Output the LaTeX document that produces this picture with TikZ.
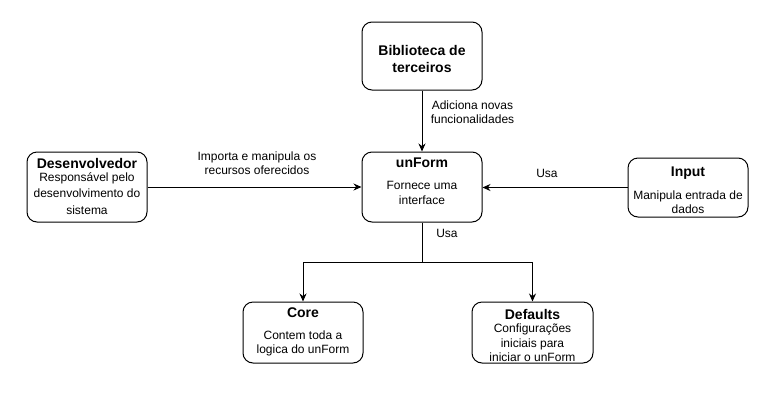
\documentclass[tikz,border=0pt]{standalone}
\usepackage{fontspec}
\setmainfont{Liberation Sans}
\usetikzlibrary{arrows.meta}
\begin{document}
\begin{tikzpicture}[x=1pt,y=-1pt,
 box/.style={draw,line width=1pt,rounded corners=10pt,inner sep=0pt,fill=white},
 ttl/.style={font=\fontsize{14}{17}\selectfont\bfseries,align=center,inner sep=0pt},
 body/.style={font=\fontsize{12}{14}\selectfont,align=center,inner sep=0pt},
 lbl/.style={font=\fontsize{12}{14}\selectfont,align=center,inner sep=0pt},
 conn/.style={line width=1pt,-{Stealth[length=8pt,width=7pt]}}]
\path[use as bounding box,fill=white] (0,0) rectangle (782,408);
% boxes
\node[box,minimum width=120pt,minimum height=68pt] (bib) at (422,56) {};
\node[box,minimum width=120pt,minimum height=70pt] (dev) at (87,187) {};
\node[box,minimum width=120pt,minimum height=70pt] (unf) at (422,187) {};
\node[box,minimum width=120pt,minimum height=59pt] (inp) at (688,187.5) {};
\node[box,minimum width=120pt,minimum height=61pt] (core) at (303,332.5) {};
\node[box,minimum width=121pt,minimum height=61pt] (def) at (532.5,332.5) {};
% box texts
\node[ttl] (bibT) at (422,58.5) {Biblioteca de\\terceiros};
\node[ttl] (devT) at (87,163) {Desenvolvedor};
\node[body,font=\fontsize{12}{16.5}\selectfont] (devB) at (87,193.5) {Responsável pelo\\desenvolvimento do\\sistema};
\node[ttl] (unfT) at (422,163) {unForm};
\node[body,font=\fontsize{12}{15}\selectfont] (unfB) at (422,192.5) {Fornece uma\\interface};
\node[ttl] (inpT) at (688,173) {Input};
\node[body,font=\fontsize{12}{14}\selectfont] (inpB) at (688,202.5) {Manipula entrada de\\dados};
\node[ttl] (coreT) at (303,313) {Core};
\node[body,font=\fontsize{12}{14}\selectfont] (coreB) at (303,343) {Contem toda a\\logica do unForm};
\node[ttl] (defT) at (532.5,314) {Defaults};
\node[body,font=\fontsize{12}{14.5}\selectfont] (defB) at (532.5,343) {Configurações\\iniciais para\\iniciar o unForm};
% connectors
\coordinate (split) at (422,262);
\draw[conn] (bib) -- (unf);
\draw[conn] (dev) -- (unf);
\draw[conn] (inp.west) -- (unf.east|-inp.west);
\draw[conn] (unf.south) -- (split) -| (core.north);
\draw[conn] (split) -| (def.north);
% labels
\node[lbl] (l1) at (472.5,112.5) {Adiciona novas\\funcionalidades};
\node[lbl] (l2) at (257,163) {Importa e manipula os\\recursos oferecidos};
\node[lbl] (l3) at (547,173) {Usa};
\node[lbl] (l4) at (447,233) {Usa};
\end{tikzpicture}
\end{document}
